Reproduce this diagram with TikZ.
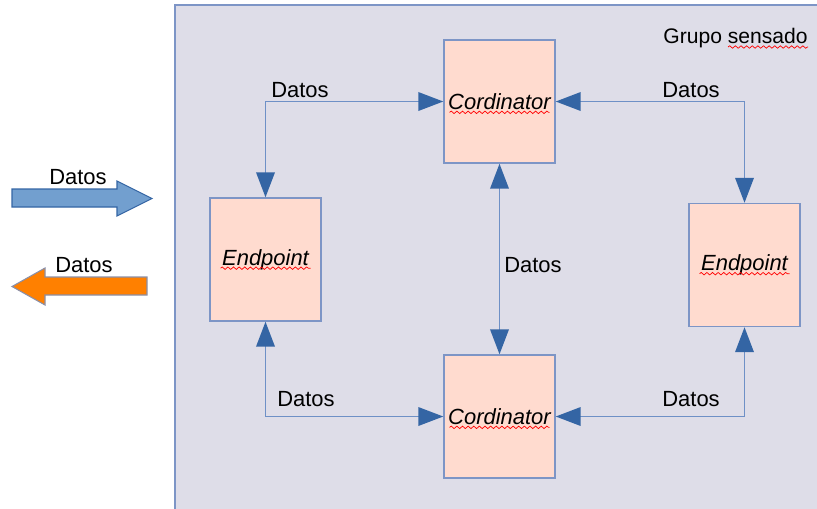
\documentclass[tikz,border=0pt]{standalone}
\usepackage{fontspec}
\setmainfont{Liberation Sans}
\usetikzlibrary{arrows.meta}
\usetikzlibrary{positioning}
\usetikzlibrary{calc}
\usetikzlibrary{decorations.pathmorphing}

\definecolor{groupbg}{HTML}{DEDDE8}
\definecolor{boxfill}{HTML}{FFDBCF}
\definecolor{boxline}{HTML}{7D95C6}
\definecolor{linkline}{HTML}{6E90C6}
\definecolor{tipblue}{HTML}{3465A4}
\definecolor{inblue}{HTML}{729FCF}
\definecolor{outorange}{HTML}{FF8000}
\definecolor{outline}{HTML}{8A8FA8}

\tikzstyle{device} = [rectangle, fill=boxfill, draw=boxline, line width=0.8pt,
minimum width=2.22cm, minimum height=2.46cm, inner sep=0pt,
font=\fontsize{12.5}{15}\selectfont\itshape]
\tikzstyle{link} = [draw=linkline, line width=1.1pt,
{Triangle[length=0.5cm,width=0.37cm,color=tipblue]}-{Triangle[length=0.5cm,width=0.37cm,color=tipblue]}]
\tikzstyle{datos} = [font=\fontsize{12.5}{15}\selectfont, inner sep=0pt]
\tikzstyle{spell} = [red, line width=0.4pt, decorate,
decoration={snake, amplitude=0.7pt, segment length=3.2pt}]

\begin{document}
\begin{tikzpicture}[x=0.02cm, y=-0.02cm]
\useasboundingbox (0,0) rectangle (817,508);

% sensing group
\begin{scope}
\clip (0,0) rectangle (817,508);
\draw[fill=groupbg, draw=boxline, line width=1.2pt] (175,5) rectangle (830,520);
\end{scope}
\node[anchor=base east, font=\fontsize{12}{14}\selectfont, inner sep=0pt] (grp) at (808,43) {Grupo sensado};
\draw[spell] ($(grp.base east)+(-80,4)$) -- ++(80,0);

% devices
\node[device] (c1) at (499.5,101.5) {Cordinator};
\node[device] (c2) at (499.5,416.5) {Cordinator};
\node[device] (ep1) at (265.5,259.5) {Endpoint};
\node[device] (ep2) at (744.5,265) {Endpoint};

\draw[spell] ($(c1.base)+(-50,3)$) -- ++(100,0);
\draw[spell] ($(c2.base)+(-50,3)$) -- ++(100,0);
\draw[spell] ($(ep1.base)+(-45,3)$) -- ++(90,0);
\draw[spell] ($(ep2.base)+(-45,3)$) -- ++(90,0);

% links
\draw[link] (ep1.north) |- (c1.west);
\draw[link] (c1.east) -| (ep2.north);
\draw[link] (c1.south) -- (c2.north);
\draw[link] (ep1.south) |- (c2.west);
\draw[link] (ep2.south) |- (c2.east);

\node[datos] (d1) at (300,90) {Datos};
\node[datos] (d2) at (691,90) {Datos};
\node[datos] (d3) at (533,265) {Datos};
\node[datos] (d4) at (306,399) {Datos};
\node[datos] (d5) at (691,399) {Datos};

% data in / out
\draw[fill=inblue, draw=tipblue, line width=0.6pt]
(12,189) -- (117,189) -- (117,181) -- (152,198.5) -- (117,216) -- (117,207) -- (12,207) -- cycle;
\draw[fill=outorange, draw=outline, line width=0.6pt]
(147,277) -- (45,277) -- (45,268) -- (12,286.5) -- (45,305) -- (45,295) -- (147,295) -- cycle;
\node[datos] (din) at (78,177) {Datos};
\node[datos] (dout) at (84,265) {Datos};

\end{tikzpicture}
\end{document}
